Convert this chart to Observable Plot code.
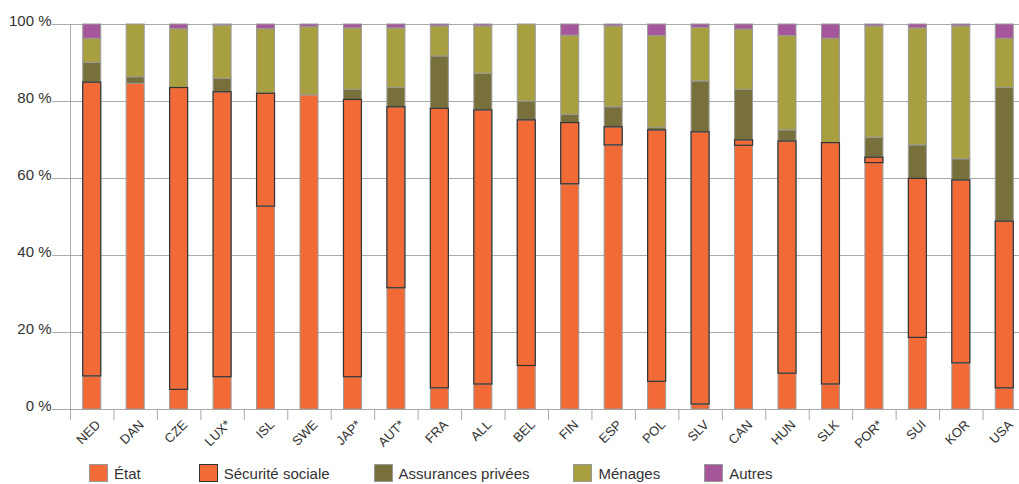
<!DOCTYPE html>
<html>
<head>
<meta charset="utf-8">
<script src="https://cdn.jsdelivr.net/npm/d3@7"></script>
<script src="https://cdn.jsdelivr.net/npm/@observablehq/plot@0.6"></script>
<style>
  html, body { margin: 0; padding: 0; background: white; }
  body { width: 1019px; height: 484px; overflow: hidden; font-family: "Liberation Sans", Arial, sans-serif; }
  #legend { display: flex; align-items: center; padding-left: 89px; margin-top: 4px; font-size: 15px; color: #333; gap: 44px; }
  #legend .item { display: flex; align-items: center; }
  #legend .item:first-child { margin-right: 14px; }
  #legend .sw { width: 17px; height: 16px; border: 1px solid #9a9a9a; margin-right: 6px; }
</style>
</head>
<body>
<div id="chart"></div>
<div id="legend"></div>
<script>
const categories = ["NED","DAN","CZE","LUX*","ISL","SWE","JAP*","AUT*","FRA","ALL","BEL","FIN","ESP","POL","SLV","CAN","HUN","SLK","POR*","SUI","KOR","USA"];
const etat     = [8.6, 84.6, 5.1, 8.4, 52.7, 81.6, 8.4, 31.5, 5.5, 6.5, 11.3, 58.5, 68.6, 7.2, 1.3, 68.5, 9.3, 6.5, 64.0, 18.6, 12.0, 5.5];
const securite = [76.3, 0, 78.4, 74.0, 29.3, 0, 72.0, 47.0, 72.6, 71.2, 63.8, 15.9, 4.7, 65.3, 70.7, 1.4, 60.3, 62.7, 1.4, 41.3, 47.5, 43.3];
const assurances = [5.1, 1.7, 0, 3.5, 0, 0, 2.6, 5.0, 13.6, 9.5, 4.9, 2.1, 5.2, 0.6, 13.2, 13.1, 2.9, 0, 5.2, 8.7, 5.5, 34.7];
const menages  = [6.3, 13.7, 15.3, 13.8, 16.8, 17.7, 16.0, 15.5, 7.8, 12.3, 20.0, 20.6, 21.0, 23.9, 13.9, 15.7, 24.5, 27.1, 28.9, 30.4, 34.5, 12.8];
const autres   = [3.7, 0, 1.2, 0.3, 1.2, 0.7, 1.0, 1.0, 0.5, 0.5, 0, 2.9, 0.5, 3.0, 0.9, 1.3, 3.0, 3.7, 0.5, 1.0, 0.5, 3.7];
const seriesNames = ["État", "Sécurité sociale", "Assurances privées", "Ménages", "Autres"];
const seriesColors = ["#F26A36", "#F26A36", "#77703A", "#A89F40", "#A6579B"];
const yTicks = [0, 20, 40, 60, 80, 100];

const seriesValues = [etat, securite, assurances, menages, autres];
const rows = [];
categories.forEach((c, i) => {
  seriesNames.forEach((s, j) => rows.push({country: c, series: s, value: seriesValues[j][i]}));
});

const x0 = 70, x1 = 1026;
const bw = (x1 - x0) / categories.length;
const inset = (bw - 18) / 2;

const chart = Plot.plot({
  width: 1019,
  height: 460,
  marginLeft: 70,
  marginRight: 0,
  marginTop: 24,
  marginBottom: 51,
  style: {fontFamily: "Liberation Sans, Arial, sans-serif", background: "white", color: "#333"},
  x: {domain: categories, range: [x0, x1], padding: 0, round: false, label: null},
  y: {domain: [0, 100], label: null},
  color: {domain: seriesNames, range: seriesColors},
  marks: [
    Plot.gridY(yTicks, {stroke: "#aaa", strokeOpacity: 1}),
    Plot.axisY(yTicks, {tickSize: 18, fill: "none", stroke: "#aaa", label: null}),
    Plot.text(yTicks, {y: d => d, text: d => `${d} %`, frameAnchor: "left", dx: -19, dy: -3, textAnchor: "end", fontSize: 15, fill: "#333"}),
    Plot.frame({anchor: "left", stroke: "#aaa"}),
    Plot.axisX({tickSize: 11, fill: "none", stroke: "#aaa", dx: -bw / 2, label: null}),
    Plot.text(categories, {x: d => d, text: d => d, frameAnchor: "bottom", rotate: -45, textAnchor: "end", lineAnchor: "bottom", dx: 9, dy: 16, fontSize: 13, fill: "#333"}),
    Plot.barY(rows, {x: "country", y: "value", fill: "series", order: seriesNames, stroke: "#9a9a9a", strokeWidth: 1, insetLeft: inset, insetRight: inset}),
    Plot.barY(rows, {x: "country", y: "value", z: "series", order: seriesNames, fill: "none", stroke: "#333", strokeWidth: 1.2,
      strokeOpacity: d => (d.series === "Sécurité sociale" && d.value > 0 ? 1 : 0), insetLeft: inset, insetRight: inset})
  ]
});
document.getElementById("chart").append(chart);

const legend = document.getElementById("legend");
seriesNames.forEach((s, j) => {
  const item = document.createElement("div");
  item.className = "item";
  const sw = document.createElement("div");
  sw.className = "sw";
  sw.style.background = seriesColors[j];
  if (s === "Sécurité sociale") sw.style.borderColor = "#333";
  const t = document.createElement("span");
  t.textContent = s;
  item.append(sw, t);
  legend.append(item);
});
</script>
</body>
</html>
